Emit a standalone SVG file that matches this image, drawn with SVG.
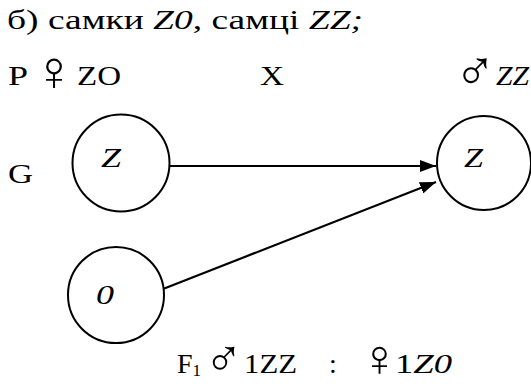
<svg xmlns="http://www.w3.org/2000/svg" width="531" height="389" viewBox="0 0 531 389">
<style>
.t{font-family:"Liberation Serif","Times New Roman",serif;font-size:28px;fill:#000}
.i{font-style:italic}
.s{font-family:"DejaVu Sans",sans-serif;font-size:56px;font-weight:200;fill:#000}
.sb{font-size:52px}
.n{fill:#fff;stroke:#000;stroke-width:2}
.c{stroke:#000;stroke-width:2.2;fill:none}
</style>
<defs>
<marker id="ah" markerUnits="userSpaceOnUse" markerWidth="16" markerHeight="12" refX="16" refY="6" orient="auto">
<path d="M0,0 L16,6 L0,12 Z" fill="#000"/>
</marker>
</defs>
<rect width="531" height="389" fill="#fff"/>
<text class="t" x="7" y="29" textLength="356" lengthAdjust="spacingAndGlyphs">б) самки <tspan class="i">Z0</tspan>, самці <tspan class="i">ZZ;</tspan></text>
<text class="t" x="8" y="85" textLength="20" lengthAdjust="spacingAndGlyphs">P</text>
<text class="s" x="33" y="90">♀</text>
<text class="t" x="77" y="85" textLength="44" lengthAdjust="spacingAndGlyphs">ZO</text>
<text class="t" x="260" y="85" textLength="24" lengthAdjust="spacingAndGlyphs">X</text>
<text class="s" x="454" y="90">♂</text>
<text class="t i" x="496" y="85" textLength="33" lengthAdjust="spacingAndGlyphs">ZZ</text>
<text class="t" x="8" y="183" textLength="25" lengthAdjust="spacingAndGlyphs">G</text>
<g id="connectors">
<line class="c" x1="170" y1="166" x2="436" y2="166" marker-end="url(#ah)"/>
<line class="c" x1="163" y1="289" x2="436" y2="182" marker-end="url(#ah)"/>
</g>
<g id="node-z1">
<circle class="n" cx="121" cy="163" r="48.5"/>
<text class="t i" x="101" y="167" font-size="29" textLength="20" lengthAdjust="spacingAndGlyphs">Z</text>
</g>
<g id="node-z2">
<circle class="n" cx="484" cy="163" r="47"/>
<text class="t i" x="464" y="167" font-size="29" textLength="19" lengthAdjust="spacingAndGlyphs">Z</text>
</g>
<g id="node-0">
<circle class="n" cx="116" cy="295" r="48"/>
<text class="t i" x="96" y="304" font-size="32" textLength="18" lengthAdjust="spacingAndGlyphs">0</text>
</g>
<text class="t" x="177" y="373">F<tspan font-size="17" dy="3">1</tspan></text>
<text class="s sb" x="204" y="376">♂</text>
<text class="t" x="244" y="373" textLength="53" lengthAdjust="spacingAndGlyphs">1ZZ</text>
<text class="t" x="329" y="373">:</text>
<text class="s sb" x="360" y="376">♀</text>
<text class="t" x="395" y="373" textLength="57" lengthAdjust="spacingAndGlyphs">1<tspan class="i">Z0</tspan></text>
</svg>
